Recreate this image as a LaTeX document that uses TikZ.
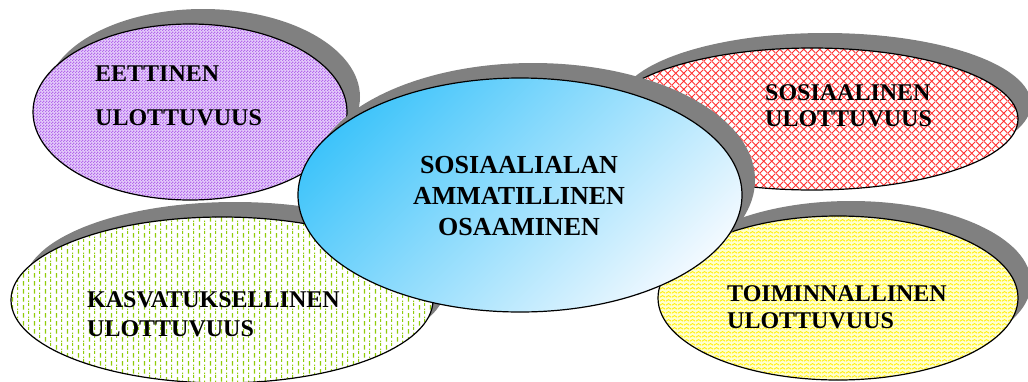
\documentclass[tikz,border=0pt]{standalone}
\usepackage{fontspec}
\setmainfont{Liberation Serif}
\usepackage{tikz}
\usetikzlibrary{shapes.geometric,shadows,patterns,calc}

\definecolor{shadowgray}{RGB}{128,128,128}
\definecolor{lilac}{RGB}{180,105,235}
\definecolor{lilacbg}{RGB}{228,204,250}
\definecolor{gridred}{RGB}{255,50,50}
\definecolor{dashgreen}{RGB}{145,205,10}
\definecolor{wavyellow}{RGB}{255,238,0}
\definecolor{wavebg}{RGB}{255,255,205}
\definecolor{coreblue}{RGB}{60,195,250}
\definecolor{corepale}{RGB}{245,250,255}

% fill patterns
\pgfdeclarepatternformonly{lilacchecks}{\pgfpointorigin}{\pgfqpoint{3pt}{3pt}}{\pgfqpoint{3pt}{3pt}}{%
  \pgfpathrectangle{\pgfpointorigin}{\pgfqpoint{1.5pt}{1.5pt}}
  \pgfpathrectangle{\pgfqpoint{1.5pt}{1.5pt}}{\pgfqpoint{1.5pt}{1.5pt}}
  \pgfusepath{fill}}
\pgfdeclarepatternformonly{redgrid}{\pgfpointorigin}{\pgfqpoint{7.7pt}{7.7pt}}{\pgfqpoint{7.7pt}{7.7pt}}{%
  \pgfsetlinewidth{0.9pt}
  \pgfpathmoveto{\pgfpointorigin}\pgfpathlineto{\pgfqpoint{7.7pt}{7.7pt}}
  \pgfpathmoveto{\pgfqpoint{0pt}{7.7pt}}\pgfpathlineto{\pgfqpoint{7.7pt}{0pt}}
  \pgfusepath{stroke}}
\pgfdeclarepatternformonly{greendash}{\pgfpointorigin}{\pgfqpoint{10.6pt}{8pt}}{\pgfqpoint{10.6pt}{8pt}}{%
  \pgfsetlinewidth{1.2pt}
  \pgfpathmoveto{\pgfqpoint{2.6pt}{0.5pt}}\pgfpathlineto{\pgfqpoint{2.6pt}{5.5pt}}
  \pgfpathmoveto{\pgfqpoint{7.9pt}{4.5pt}}\pgfpathlineto{\pgfqpoint{7.9pt}{8pt}}
  \pgfpathmoveto{\pgfqpoint{7.9pt}{0pt}}\pgfpathlineto{\pgfqpoint{7.9pt}{1.5pt}}
  \pgfusepath{stroke}}
\pgfdeclarepatternformonly{yellowwave}{\pgfpointorigin}{\pgfqpoint{6pt}{4pt}}{\pgfqpoint{6pt}{4pt}}{%
  \pgfsetlinewidth{1pt}
  \pgfpathmoveto{\pgfqpoint{0pt}{1pt}}\pgfpathlineto{\pgfqpoint{3pt}{3pt}}\pgfpathlineto{\pgfqpoint{6pt}{1pt}}
  \pgfusepath{stroke}}

\tikzset{
  dimension/.style={ellipse, draw=black, line width=1.2pt, inner sep=0pt,
    drop shadow={shadow xshift=13pt, shadow yshift=15pt, fill=shadowgray, opacity=1}},
  sidelabel/.style={font=\bfseries\fontsize{24}{27}\selectfont, align=left, inner sep=0pt, anchor=base west},
  corelabel/.style={font=\bfseries\fontsize{26}{31}\selectfont, align=center, inner sep=0pt, anchor=base}
}

\begin{document}
\begin{tikzpicture}[x=1pt, y=-1pt]
    \useasboundingbox (0,0) rectangle (1028,381);

    % outer dimensions
    \node[dimension, minimum width=422, minimum height=166,
      preaction={fill=white}, pattern=greendash, pattern color=dashgreen] (kasv) at (222,300) {};
    \node[dimension, minimum width=360, minimum height=164,
      preaction={fill=wavebg}, pattern=yellowwave, pattern color=wavyellow] (toim) at (838,298) {};
    \node[dimension, minimum width=314, minimum height=176,
      preaction={fill=lilacbg}, pattern=lilacchecks, pattern color=lilac] (eett) at (190,112) {};
    \node[dimension, minimum width=412, minimum height=142,
      preaction={fill=white}, pattern=redgrid, pattern color=gridred] (sosi) at (812,119) {};

    % core, diagonal blue gradient
    \node[dimension, minimum width=444, minimum height=234, fill=white,
      path picture={
        \shade[transform canvas={rotate around={45:(path picture bounding box.center)}},
          top color=coreblue, bottom color=corepale]
          ($(path picture bounding box.center)+(-180,-180)$) rectangle +(360,360);
      }] (core) at (520,195) {};

    % texts
    \node[sidelabel] (eettlbl) at (95,125) {EETTINEN\\[17pt]ULOTTUVUUS};
    \node[sidelabel] (sosilbl) at (765,126) {SOSIAALINEN\\[-1pt]ULOTTUVUUS};
    \node[sidelabel] (kasvlbl) at (87,336) {KASVATUKSELLINEN\\[2pt]ULOTTUVUUS};
    \node[sidelabel] (toimlbl) at (727,328) {TOIMINNALLINEN\\ULOTTUVUUS};
    \node[corelabel] (corelbl) at (519,235) {SOSIAALIALAN\\AMMATILLINEN\\OSAAMINEN};
\end{tikzpicture}
\end{document}
